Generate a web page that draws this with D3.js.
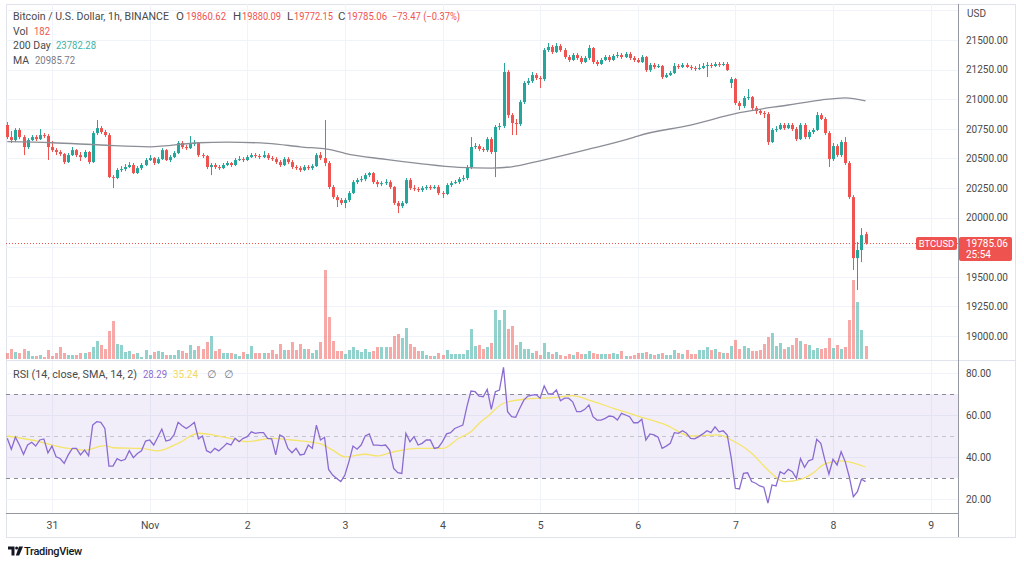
<!DOCTYPE html>
<html><head><meta charset="utf-8">
<script src="https://cdn.jsdelivr.net/npm/d3@7"></script>
<style>
body{margin:0;background:#fff}
svg{display:block}
text{font-family:Roboto,"DejaVu Sans",sans-serif}
</style></head>
<body><svg id="c" width="1024" height="568"></svg>
<script>
// ---------- DATA ----------
// hourly candles, first one at 2022-10-30 13:00 UTC
const firstCandle = Date.UTC(2022, 9, 30, 13);
const opens = [20782,20680,20655,20740,20680,20596,20655,20680,20663,20697,20689,
20596,20570,20554,20537,20469,20528,20570,20528,20511,20554,
20469,20714,20756,20723,20697,20342,20334,20402,20410,20427,
20444,20376,20418,20444,20486,20503,20461,20494,20570,20486,
20511,20545,20630,20596,20587,20621,20630,20528,20520,20427,
20444,20427,20418,20444,20461,20444,20486,20494,20486,20511,
20528,20520,20511,20528,20503,20494,20469,20444,20494,20469,
20427,20418,20402,20427,20418,20435,20528,20503,20461,20258,
20173,20148,20123,20148,20207,20300,20317,20325,20359,20376,
20300,20283,20291,20300,20258,20123,20097,20123,20317,20249,
20241,20233,20249,20258,20249,20258,20207,20199,20275,20291,
20300,20325,20334,20427,20596,20604,20579,20570,20663,20554,
20765,20773,21230,20866,20799,20790,20976,21137,21153,21204,
21179,21170,21415,21441,21399,21449,21415,21356,21331,21373,
21348,21314,21348,21432,21314,21297,21331,21356,21331,21365,
21373,21356,21382,21348,21331,21314,21356,21246,21289,21272,
21280,21187,21204,21221,21280,21272,21289,21272,21263,21255,
21263,21280,21289,21280,21297,21289,21297,21137,21170,20968,
20942,21010,21018,20925,20900,20883,20875,20638,20740,20748,
20782,20756,20782,20748,20663,20782,20680,20723,20740,20866,
20833,20714,20494,20604,20528,20638,20461,20173,19658,19726,
19860.62];
const highs = [20807,20731,20756,20756,20697,20672,20697,20697,20748,20714,20706,
20647,20587,20570,20545,20545,20596,20579,20554,20570,20562,
20731,20824,20773,20740,20714,20359,20418,20435,20452,20469,
20461,20435,20461,20503,20528,20511,20511,20587,20579,20528,
20562,20647,20647,20613,20689,20655,20638,20545,20528,20461,
20461,20444,20461,20478,20469,20503,20520,20511,20528,20545,
20545,20537,20562,20545,20520,20511,20486,20511,20511,20486,
20444,20435,20444,20444,20452,20545,20554,20824,20478,20275,
20190,20165,20165,20224,20317,20334,20351,20376,20385,20385,
20317,20308,20325,20317,20266,20140,20140,20334,20334,20275,
20258,20266,20275,20275,20275,20275,20224,20291,20308,20317,
20342,20359,20444,20680,20630,20621,20596,20680,20680,20782,
20799,21306,21246,20883,20833,20993,21153,21179,21230,21221,
21196,21432,21475,21458,21475,21466,21432,21373,21390,21390,
21365,21365,21458,21441,21331,21348,21373,21373,21382,21399,
21390,21399,21399,21365,21348,21373,21365,21306,21306,21297,
21289,21221,21238,21306,21297,21306,21306,21289,21280,21297,
21306,21314,21306,21314,21314,21314,21314,21187,21179,20985,
21027,21086,21027,20942,20917,20900,20892,20756,20773,20799,
20799,20799,20799,20765,20799,20799,20740,20756,20892,20883,
20849,20731,20630,20621,20655,20680,20478,20190,19793,19911,
19880.09];
const lows = [20663,20630,20638,20663,20528,20579,20647,20647,20655,20672,20486,
20554,20528,20520,20452,20461,20520,20511,20478,20503,20452,
20461,20697,20706,20680,20334,20249,20325,20385,20393,20418,
20368,20368,20402,20435,20478,20444,20452,20486,20478,20469,
20503,20537,20579,20570,20579,20604,20511,20503,20410,20359,
20410,20402,20410,20435,20427,20435,20478,20469,20478,20503,
20503,20494,20503,20486,20478,20452,20427,20435,20452,20410,
20402,20385,20393,20402,20402,20427,20486,20435,20241,20157,
20089,20106,20080,20131,20199,20283,20300,20308,20342,20283,
20258,20266,20275,20241,20106,20038,20080,20114,20233,20224,
20216,20216,20233,20233,20241,20190,20165,20190,20258,20283,
20283,20308,20317,20410,20579,20562,20554,20554,20537,20342,
20740,20756,20841,20697,20697,20773,20959,21120,21137,21162,
21094,21153,21399,21382,21390,21399,21340,21314,21323,21331,
21297,21306,21331,21297,21280,21289,21323,21314,21323,21348,
21340,21348,21331,21314,21306,21306,21230,21230,21255,21263,
21170,21179,21196,21213,21255,21263,21263,21246,21238,21246,
21255,21187,21263,21272,21272,21280,21238,21094,20951,20908,
20925,20993,20908,20875,20866,20841,20613,20630,20723,20740,
20740,20748,20731,20647,20655,20663,20663,20706,20731,20824,
20697,20427,20478,20511,20511,20444,20157,19557,19388,19624,
19772.15];
const closes = [20680,20655,20740,20680,20596,20655,20680,20663,20697,20689,20596,
20570,20554,20537,20469,20528,20570,20528,20511,20554,20469,
20714,20756,20723,20697,20342,20334,20402,20410,20427,20444,
20376,20418,20444,20486,20503,20461,20494,20570,20486,20511,
20545,20630,20596,20587,20621,20630,20528,20520,20427,20444,
20427,20418,20444,20461,20444,20486,20494,20486,20511,20528,
20520,20511,20528,20503,20494,20469,20444,20494,20469,20427,
20418,20402,20427,20418,20435,20528,20503,20461,20258,20173,
20148,20123,20148,20207,20300,20317,20325,20359,20376,20300,
20283,20291,20300,20258,20123,20097,20123,20317,20249,20241,
20233,20249,20258,20249,20258,20207,20199,20275,20291,20300,
20325,20334,20427,20596,20604,20579,20570,20663,20554,20765,
20773,21230,20866,20799,20790,20976,21137,21153,21204,21179,
21170,21415,21441,21399,21449,21415,21356,21331,21373,21348,
21314,21348,21432,21314,21297,21331,21356,21331,21365,21373,
21356,21382,21348,21331,21314,21356,21246,21289,21272,21280,
21187,21204,21221,21280,21272,21289,21272,21263,21255,21263,
21280,21289,21280,21297,21289,21297,21246,21170,20968,20942,
21010,21018,20925,20900,20883,20875,20638,20740,20748,20782,
20756,20782,20748,20663,20782,20680,20723,20740,20866,20833,
20714,20494,20604,20528,20638,20461,20173,19658,19726,19852,
19785.06];
const volumes = [84,140,98,84,140,112,42,42,56,28,
126,42,84,168,84,56,56,56,84,84,
98,168,252,196,140,392,532,210,196,98,
112,70,84,28,126,56,98,112,98,56,
56,56,126,112,84,196,126,182,140,238,
322,112,140,84,84,84,70,42,98,70,
182,84,84,84,84,126,70,210,126,126,
238,126,210,140,140,84,126,238,1246,588,
252,112,112,70,126,168,126,98,140,98,
112,168,168,168,168,322,350,294,434,210,
168,112,112,56,42,42,84,56,126,70,
70,70,70,126,420,182,196,140,168,224,
686,546,686,420,462,196,238,140,140,84,
112,56,224,98,70,98,56,42,70,56,
98,70,70,112,84,70,70,70,70,84,
70,112,42,42,56,84,84,98,70,56,
70,84,56,56,126,84,70,126,70,70,
126,126,168,126,140,98,84,84,182,266,
140,182,154,112,112,126,210,308,364,182,
224,140,168,196,294,252,210,196,126,154,
140,154,294,154,196,140,168,546,1106,798,
406,182];
const rsiValues = [48.9,43.7,49.4,45.7,41.3,45.7,47,45.2,48.1,48.6,42,
45.2,40.1,39.3,37,41,44.1,44.1,41,43.3,40.6,
55.2,56.8,56.5,53.6,35.7,35.7,39.2,38.2,38.9,43,
39.7,41.7,43,47.6,48.1,45.7,49.4,53.3,47.6,48.1,
50.5,56.5,54.9,53.6,54.9,56.5,48.6,50,43,42,
44.1,42.9,44.6,46.5,45.7,48.9,47.3,48.9,49.7,52,
51.3,51.6,51.6,48.9,48.6,41,50.5,49.4,44.1,42,
44.1,41,41.4,45.7,44.1,55.2,48.1,49.4,34.1,31.4,
29.8,28.3,31.4,37.8,45.2,43.7,45.7,50,51,45.7,
45.7,45.4,45.7,43.3,34.6,32.5,32.2,51.3,47.3,49.7,
45.7,46.5,48.1,48.1,44.1,44.6,47.3,51,51.6,53.6,
54.4,55.2,64,71.4,71.1,69,68.7,72.2,62.7,71.1,
71.9,82.7,61.6,59.2,58.9,63.2,67.1,69,69.5,69.7,
68,73.8,70,70,71.9,66.8,68,68,66.3,61.6,
61.6,62.7,64.8,59.2,57.6,57.6,58.4,59.5,59.2,57.6,
60.8,60,59.2,56.3,56.3,58,48.1,51,50.5,49.4,
44.1,45.2,46.5,51.6,51.3,52.5,51.3,48.9,48.6,49.7,
51,52.5,51.6,54.4,52,52.5,50.5,39.3,25.1,24.8,
32.2,32.5,28.3,27.5,26.2,25.6,18,26.7,26.2,33,
31.9,34.1,33,29.8,39.3,35.1,38.2,38.9,48.4,46.5,
38.6,31.9,38.9,36.2,42.5,37.8,30.6,21.1,23.5,29.4,
28.29];
// RSI moving average, read at candle offsets (hours after first candle)
const rsiMaHours = [0,6,15,19,24,26,33,37,42,47,54,59,65,70,77,80,83,88,91,95,101,107,111,114,116,118,122,127,135,139,143,149,155,162,168,175,178,183,187,191,195,198,201,205,211];
const rsiMaValues = [50,48.1,44.1,43.3,45.4,44.4,44.1,42.9,46.5,51.3,49.2,47.3,48.9,48.1,46.2,43.3,40.1,41.3,40.5,42.5,44.1,44.1,48.9,52,56,59.2,65.6,67.5,68.4,69.2,67.1,63.2,59.5,55.2,50,50.5,48.1,41.8,33.8,28.3,29.4,32.2,36.7,38.2,35.24];
// 200 period MA, read at candle offsets
const maHours = [0,11,23,35,47,54,64,72,80,83,93,101,111,119,124,131,142,154,155,168,180,192,200,206,211];
const maValues = [20641,20632,20613,20598,20632,20638,20627,20598,20570,20543,20492,20458,20424,20418,20429,20480,20570,20678,20689,20782,20886,20951,20993,21012,20985.72];

const priceTicks = [19000,19250,19500,20000,20250,20500,20750,21000,21250,21500];
const priceGrid = [19000,19250,19500,19750,20000,20250,20500,20750,21000,21250,21500,21750];
const rsiTicks = [20,40,60,80];
const dayDates = [[2022,9,31],[2022,10,1],[2022,10,2],[2022,10,3],[2022,10,4],[2022,10,5],[2022,10,6],[2022,10,7],[2022,10,8],[2022,10,9]];
const dayLabels = ["31","Nov","2","3","4","5","6","7","8","9"];

// ---------- LAYOUT ----------
const L = 6, R = 958, T = 4, MB = 360, RB = 513, AB = 537, RE = 1015;
const UP = "#26a69a", DN = "#ef5350";
const HOUR = 3600e3;
const svg = d3.select("#c");
const tOf = i => new Date(firstCandle + i * HOUR);

const x = d3.scaleUtc()
  .domain([new Date(Date.UTC(2022,9,31)), new Date(Date.UTC(2022,10,8))])
  .range([52, 833]);
const y = d3.scaleLinear().domain([19000, 21500]).range([336, 40]);
const yv = d3.scaleLinear().domain([0, 1246]).range([359, 270]);
const yr = d3.scaleLinear().domain([20, 80]).range([499, 373]);

const candles = closes.map((c, i) => ({t: tOf(i), o: opens[i], h: highs[i], l: lows[i], c, v: volumes[i], r: rsiValues[i]}));
const days = dayDates.map(d => new Date(Date.UTC(d[0], d[1], d[2])));

const defs = svg.append("defs");
defs.append("clipPath").attr("id","cm").append("rect").attr("x",L).attr("y",T).attr("width",R-L).attr("height",MB-T);
defs.append("clipPath").attr("id","cr").append("rect").attr("x",L).attr("y",MB).attr("width",R-L).attr("height",RB-MB);

svg.append("rect").attr("x",L+0.5).attr("y",T+0.5).attr("width",RE-L).attr("height",AB-T)
  .attr("fill","#fff").attr("stroke","#e0e3eb");

const gridC = "#f0f3fa";
svg.append("g").selectAll("line").data(days).join("line")
  .attr("x1", d => Math.round(x(d)) + 0.5).attr("x2", d => Math.round(x(d)) + 0.5)
  .attr("y1", T).attr("y2", RB).attr("stroke", gridC);
const gm = svg.append("g").attr("clip-path","url(#cm)");
gm.selectAll("line").data(priceGrid).join("line")
  .attr("x1", L).attr("x2", R).attr("y1", d => Math.round(y(d)) + 0.5).attr("y2", d => Math.round(y(d)) + 0.5)
  .attr("stroke", gridC);
svg.append("g").selectAll("line").data(rsiTicks).join("line")
  .attr("x1", L).attr("x2", R).attr("y1", d => Math.round(yr(d)) + 0.5).attr("y2", d => Math.round(yr(d)) + 0.5)
  .attr("stroke", gridC);

// ---------- MAIN PANE ----------
const main = svg.append("g").attr("clip-path","url(#cm)");
main.append("g").selectAll("rect").data(candles).join("rect")
  .attr("x", d => Math.round(x(d.t)) - 1).attr("width", 3)
  .attr("y", d => yv(d.v)).attr("height", d => yv(0) - yv(d.v))
  .attr("fill", d => d.c >= d.o ? "rgba(38,166,154,0.5)" : "rgba(239,83,80,0.5)");
const lastY = y(closes[closes.length-1]);
main.append("line").attr("x1", L).attr("x2", R)
  .attr("y1", Math.round(lastY) + 0.5).attr("y2", Math.round(lastY) + 0.5)
  .attr("stroke", DN).attr("stroke-dasharray","1,2");
const cg = main.append("g").selectAll("g").data(candles).join("g");
cg.append("line")
  .attr("x1", d => Math.round(x(d.t)) + 0.5).attr("x2", d => Math.round(x(d.t)) + 0.5)
  .attr("y1", d => y(d.h)).attr("y2", d => y(d.l))
  .attr("stroke", d => d.c >= d.o ? UP : DN);
cg.append("rect")
  .attr("x", d => Math.round(x(d.t)) - 1).attr("width", 3)
  .attr("y", d => y(Math.max(d.o, d.c)))
  .attr("height", d => Math.max(1, Math.abs(y(d.o) - y(d.c))))
  .attr("fill", d => d.c >= d.o ? UP : DN);
main.append("path")
  .datum(maHours.map((h, i) => ({t: tOf(h), v: maValues[i]})))
  .attr("fill","none").attr("stroke","#8b8e96").attr("stroke-width",1.3)
  .attr("d", d3.line().x(d => x(d.t)).y(d => y(d.v)).curve(d3.curveMonotoneX));

// ---------- RSI PANE ----------
const rp = svg.append("g").attr("clip-path","url(#cr)");
rp.append("rect").attr("x", L).attr("width", R-L).attr("y", yr(70)).attr("height", yr(30) - yr(70))
  .attr("fill","rgba(126,87,194,0.1)");
[[70,"#8a8d96"],[50,"#c3c5cb"],[30,"#8a8d96"]].forEach(([v,c]) => {
  rp.append("line").attr("x1",L).attr("x2",R).attr("y1",Math.round(yr(v))+0.5).attr("y2",Math.round(yr(v))+0.5)
    .attr("stroke",c).attr("stroke-dasharray","4,4");
});
rp.append("path")
  .datum(rsiMaHours.map((h, i) => ({t: tOf(h), v: rsiMaValues[i]})))
  .attr("fill","none").attr("stroke","#f5e46a").attr("stroke-width",1.3)
  .attr("d", d3.line().x(d => x(d.t)).y(d => yr(d.v)).curve(d3.curveMonotoneX));
rp.append("path").datum(candles)
  .attr("fill","none").attr("stroke","#8a6bd1").attr("stroke-width",1.3)
  .attr("d", d3.line().x(d => x(d.t)).y(d => yr(d.r)));

svg.append("line").attr("x1",L).attr("x2",RE).attr("y1",MB+0.5).attr("y2",MB+0.5).attr("stroke","#e0e3eb");
svg.append("line").attr("x1",L).attr("x2",R).attr("y1",RB+0.5).attr("y2",RB+0.5).attr("stroke","#9598a1");
svg.append("line").attr("x1",R+0.5).attr("x2",R+0.5).attr("y1",T).attr("y2",AB).attr("stroke","#9598a1");

// ---------- AXES ----------
const txt = "#4a4a4a";
const ay = svg.append("g").attr("transform",`translate(${R},0)`)
  .call(d3.axisRight(y).tickValues(priceTicks).tickSize(0).tickPadding(8).tickFormat(d3.format(".2f")));
ay.select(".domain").remove();
ay.selectAll("text").attr("fill",txt).style("font-size","10px").style("font-family","Roboto");
const ar = svg.append("g").attr("transform",`translate(${R},0)`)
  .call(d3.axisRight(yr).tickValues(rsiTicks).tickSize(0).tickPadding(8).tickFormat(d3.format(".2f")));
ar.select(".domain").remove();
ar.selectAll("text").attr("fill",txt).style("font-size","10px").style("font-family","Roboto");
const ax = svg.append("g").attr("transform",`translate(0,${RB})`)
  .call(d3.axisBottom(x).tickValues(days).tickSize(0).tickPadding(9).tickFormat((d,i) => dayLabels[i]));
ax.select(".domain").remove();
ax.selectAll("text").attr("fill",txt).style("font-size","10.5px").style("font-family","Roboto");

svg.append("text").attr("x",967).attr("y",17).attr("fill",txt).style("font-size","10px").text("USD");

svg.append("rect").attr("x",916).attr("y",lastY-6).attr("width",41).attr("height",13).attr("rx",2).attr("fill",DN);
svg.append("text").attr("x",936.5).attr("y",lastY+3.5).attr("text-anchor","middle").attr("fill","#fff")
  .style("font-size","9.5px").text("BTCUSD");
svg.append("rect").attr("x",959).attr("y",lastY-6).attr("width",53).attr("height",24).attr("rx",2).attr("fill",DN);
svg.append("text").attr("x",966).attr("y",lastY+4).attr("fill","#fff").style("font-size","10px").text("19785.06");
svg.append("text").attr("x",966).attr("y",lastY+15).attr("fill","#fff").style("font-size","10px").text("25:54");

// ---------- LEGENDS ----------
const lg = svg.append("g").style("font-size","10.5px");
function piece(xp, yp, s, c, w, fs) {
  const t = lg.append("text").attr("x",xp).attr("y",yp).attr("fill",c).text(s);
  if (w) t.attr("textLength", w).attr("lengthAdjust","spacingAndGlyphs");
  if (fs) t.style("font-size", fs);
}
piece(13, 20, "Bitcoin / U.S. Dollar, 1h, BINANCE", txt, 156);
piece(176, 20, "O", txt, null, "11.5px"); piece(186, 20, "19860.62", DN, 40);
piece(233, 20, "H", txt, null, "11.5px"); piece(242, 20, "19880.09", DN, 39);
piece(287, 20, "L", txt, null, "11.5px"); piece(294, 20, "19772.15", DN, 39);
piece(338, 20, "C", txt, null, "11.5px"); piece(347, 20, "19785.06", DN, 40);
piece(392, 20, "−73.47 (−0.37%)", DN, 68);
piece(13, 35, "Vol", txt); piece(34, 35, "182", DN, 16);
piece(13, 49, "200 Day", txt); piece(56, 49, "23782.28", "#3bb3a6", 40);
piece(13, 64, "MA", txt); piece(35, 64, "20985.72", "#787b86", 40);
piece(13, 378, "RSI (14, close, SMA, 14, 2)", txt, 124);
piece(143, 378, "28.29", "#8a6bd1", 24);
piece(173, 378, "35.24", "#f2d95c", 25);
piece(207, 378, "∅", "#787b86");
piece(224, 378, "∅", "#787b86");

// ---------- LOGO ----------
const logo = svg.append("g").attr("fill","#131722");
logo.append("path").attr("d","M8 546.5h6.5v9h-3v-6h-3.5z");
logo.append("circle").attr("cx",16.6).attr("cy",548).attr("r",1.5);
logo.append("path").attr("d","M19 546.5h4l-3.8 9h-3.4z");
svg.append("text").attr("x",24).attr("y",555).attr("fill","#131722")
  .style("font-size","11px").style("font-weight","500").style("letter-spacing","-0.3px").text("TradingView");
</script>
</body></html>
